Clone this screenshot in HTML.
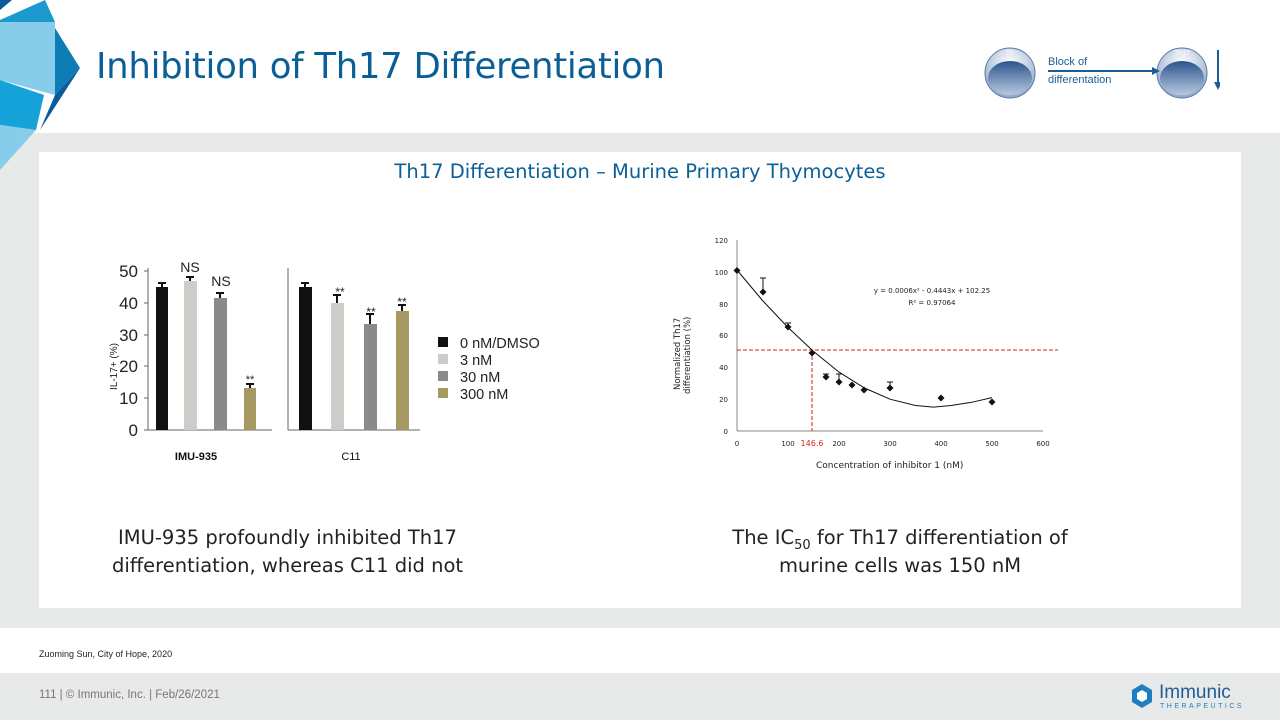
<!DOCTYPE html>
<html><head><meta charset="utf-8"><style>
body{margin:0;width:1280px;height:720px;position:relative;background:#fff;font-family:"Liberation Sans",sans-serif;overflow:hidden}
.abs{position:absolute}
sub{line-height:0}
</style></head><body>
<div class="abs" style="left:0;top:133px;width:1280px;height:495px;background:#e8e9e9"></div>
<div class="abs" style="left:39px;top:152px;width:1202px;height:456px;background:#fff"></div>
<div class="abs" style="left:0;top:673px;width:1280px;height:47px;background:#e8e9e9"></div>
<svg class="abs" style="left:0;top:0" width="90" height="180">
<polygon points="0,0 12,0 0,10" fill="#0a5a9c"/>
<polygon points="0,20 45,0 55,22 0,22" fill="#1c9ad0"/>
<polygon points="0,22 55,22 55,95 0,80" fill="#86cdea"/>
<polygon points="55,28 80,68 55,95" fill="#0e7db5"/>
<polygon points="80,68 55,95 40,130" fill="#0a5a9c"/>
<polygon points="0,80 44,95 36,130 0,125" fill="#14a2d8"/>
<polygon points="0,125 36,130 0,170" fill="#86cdea"/>
</svg>
<div class="abs" style="left:96px;top:46px;font-size:35.5px;color:#0b5f97;font-family:'DejaVu Sans',sans-serif;letter-spacing:-0.3px">Inhibition of Th17 Differentiation</div>
<svg class="abs" style="left:980px;top:40px" width="240" height="65">
<defs><radialGradient id="g" cx="50%" cy="30%" r="70%"><stop offset="0" stop-color="#fff"/><stop offset="1" stop-color="#8ea6c8"/></radialGradient>
<linearGradient id="b" x1="0" y1="0" x2="0" y2="1"><stop offset="0" stop-color="#2b548c"/><stop offset="1" stop-color="#b8c8e0"/></linearGradient></defs>
<circle cx="30" cy="33" r="25" fill="url(#g)" stroke="#5a7aa8"/><ellipse cx="30" cy="38" rx="22" ry="17" fill="url(#b)"/>
<text x="30" y="15" font-size="7" fill="#fff" text-anchor="middle">Th</text>
<circle cx="202" cy="33" r="25" fill="url(#g)" stroke="#5a7aa8"/><ellipse cx="202" cy="38" rx="22" ry="17" fill="url(#b)"/>
<text x="202" y="15" font-size="7" fill="#fff" text-anchor="middle">Th17</text>
<text x="68" y="25" font-size="11" fill="#1b5e96">Block of</text>
<text x="68" y="43" font-size="11" fill="#1b5e96">differentation</text>
<line x1="68" y1="31" x2="172" y2="31" stroke="#1b5e96" stroke-width="2"/><polygon points="172,27 180,31 172,35" fill="#1b5e96"/>
<line x1="238" y1="10" x2="238" y2="44" stroke="#1b5e96" stroke-width="2"/><polygon points="234,42 238,50 242,42" fill="#1b5e96"/>
</svg>
<div class="abs" style="left:39px;width:1202px;top:160px;text-align:center;font-size:19.5px;color:#0b5f97;font-family:'DejaVu Sans',sans-serif">Th17 Differentiation – Murine Primary Thymocytes</div>
<!-- bar chart -->
<svg class="abs" style="left:100px;top:250px" width="460" height="220" font-family="Liberation Sans,sans-serif">
<g font-size="17" fill="#222" text-anchor="end">
<text x="38" y="27">50</text><text x="38" y="59">40</text><text x="38" y="91">30</text><text x="38" y="122">20</text><text x="38" y="154">10</text><text x="38" y="186">0</text></g>
<text transform="translate(17,140) rotate(-90)" font-size="10" fill="#222">IL-17+ (%)</text>
<line x1="48" y1="18" x2="48" y2="180" stroke="#666"/><line x1="48" y1="180" x2="172" y2="180" stroke="#666"/>
<g stroke="#666"><line x1="44" y1="21" x2="48" y2="21"/><line x1="44" y1="53" x2="48" y2="53"/><line x1="44" y1="85" x2="48" y2="85"/><line x1="44" y1="116" x2="48" y2="116"/><line x1="44" y1="148" x2="48" y2="148"/><line x1="44" y1="180" x2="48" y2="180"/></g>
<rect x="56" y="37" width="12" height="143" fill="#111"/><rect x="84" y="31" width="13" height="149" fill="#ccccc8"/><rect x="114" y="48" width="13" height="132" fill="#8a8a88"/><rect x="144" y="138" width="12" height="42" fill="#a69a62"/>
<g stroke="#111" stroke-width="2"><line x1="62" y1="37" x2="62" y2="33"/><line x1="58" y1="33" x2="66" y2="33"/><line x1="90" y1="31" x2="90" y2="27"/><line x1="86" y1="27" x2="94" y2="27"/><line x1="120" y1="48" x2="120" y2="43"/><line x1="116" y1="43" x2="124" y2="43"/><line x1="150" y1="138" x2="150" y2="134"/><line x1="146" y1="134" x2="154" y2="134"/></g>
<text x="90" y="22" font-size="14" text-anchor="middle" fill="#222">NS</text><text x="121" y="36" font-size="14" text-anchor="middle" fill="#222">NS</text>
<text x="150" y="133" font-size="11" text-anchor="middle" fill="#222">**</text>
<line x1="188" y1="18" x2="188" y2="180" stroke="#666"/><line x1="188" y1="180" x2="320" y2="180" stroke="#666"/>
<rect x="199" y="37" width="13" height="143" fill="#111"/><rect x="231" y="53" width="13" height="127" fill="#ccccc8"/><rect x="264" y="74" width="13" height="106" fill="#8a8a88"/><rect x="296" y="61" width="13" height="119" fill="#a69a62"/>
<g stroke="#111" stroke-width="2"><line x1="205" y1="37" x2="205" y2="33"/><line x1="201" y1="33" x2="209" y2="33"/><line x1="237" y1="53" x2="237" y2="45"/><line x1="233" y1="45" x2="241" y2="45"/><line x1="270" y1="74" x2="270" y2="64"/><line x1="266" y1="64" x2="274" y2="64"/><line x1="302" y1="61" x2="302" y2="55"/><line x1="298" y1="55" x2="306" y2="55"/></g>
<g font-size="12" text-anchor="middle" fill="#222"><text x="240" y="46">**</text><text x="271" y="66">**</text><text x="302" y="56">**</text></g>
<rect x="338" y="87" width="10" height="10" fill="#111"/><rect x="338" y="104" width="10" height="10" fill="#ccccc8"/><rect x="338" y="121" width="10" height="10" fill="#8a8a88"/><rect x="338" y="138" width="10" height="10" fill="#a69a62"/>
<g font-size="14.5" fill="#222"><text x="360" y="98">0 nM/DMSO</text><text x="360" y="115">3 nM</text><text x="360" y="132">30 nM</text><text x="360" y="149">300 nM</text></g>
<text x="96" y="210" font-size="11" text-anchor="middle" fill="#111" font-weight="bold">IMU-935</text>
<text x="251" y="210" font-size="11" text-anchor="middle" fill="#111">C11</text>
</svg>
<!-- line chart -->
<svg class="abs" style="left:660px;top:230px" width="420" height="250" font-family="DejaVu Sans,sans-serif">
<g font-size="7" fill="#222" text-anchor="end"><text x="68" y="13">120</text><text x="68" y="45">100</text><text x="68" y="77">80</text><text x="68" y="108">60</text><text x="68" y="140">40</text><text x="68" y="172">20</text><text x="68" y="204">0</text></g>
<line x1="77" y1="10" x2="77" y2="201" stroke="#888"/><line x1="77" y1="201" x2="383" y2="201" stroke="#888"/>
<g font-size="7" fill="#222" text-anchor="middle"><text x="77" y="216">0</text><text x="128" y="216">100</text><text x="179" y="216">200</text><text x="230" y="216">300</text><text x="281" y="216">400</text><text x="332" y="216">500</text><text x="383" y="216">600</text></g>
<text x="152" y="216" font-size="8" fill="#d22" text-anchor="middle">146.6</text>
<text transform="translate(20,160) rotate(-90)" font-size="8.5" fill="#222">Normalized  Th17</text>
<text transform="translate(30,164) rotate(-90)" font-size="8.5" fill="#222">differentiation  (%)</text>
<text x="156" y="238" font-size="9" fill="#222">Concentration  of inhibitor 1 (nM)</text>
<line x1="77" y1="120" x2="398" y2="120" stroke="#c22" stroke-dasharray="4,2"/>
<line x1="152" y1="120" x2="152" y2="201" stroke="#c22" stroke-dasharray="4,2"/>
<polyline points="77,40 102.5,70.5 128,97.5 153.5,121.4 179,142.1 204.5,158 230,169.2 255.5,175.5 273.4,177.1 291.2,175.5 311.6,172.3 332,167.6" fill="none" stroke="#111"/>
<g stroke="#111"><line x1="103" y1="62" x2="103" y2="48"/><line x1="100" y1="48" x2="106" y2="48"/><line x1="128" y1="97" x2="128" y2="93"/><line x1="125" y1="93" x2="131" y2="93"/><line x1="166" y1="147" x2="166" y2="144"/><line x1="163" y1="144" x2="169" y2="144"/><line x1="179" y1="152" x2="179" y2="144"/><line x1="176" y1="144" x2="182" y2="144"/><line x1="230" y1="158" x2="230" y2="152"/><line x1="227" y1="152" x2="233" y2="152"/></g>
<g fill="#111"><path d="M77,37l3.5,3.5l-3.5,3.5l-3.5,-3.5z"/><path d="M103,58.5l3.5,3.5l-3.5,3.5l-3.5,-3.5z"/><path d="M128,93.5l3.5,3.5l-3.5,3.5l-3.5,-3.5z"/><path d="M152,119.5l3.5,3.5l-3.5,3.5l-3.5,-3.5z"/><path d="M166,143.5l3.5,3.5l-3.5,3.5l-3.5,-3.5z"/><path d="M179,148.5l3.5,3.5l-3.5,3.5l-3.5,-3.5z"/><path d="M192,151.5l3.5,3.5l-3.5,3.5l-3.5,-3.5z"/><path d="M204,156.5l3.5,3.5l-3.5,3.5l-3.5,-3.5z"/><path d="M230,154.5l3.5,3.5l-3.5,3.5l-3.5,-3.5z"/><path d="M281,164.5l3.5,3.5l-3.5,3.5l-3.5,-3.5z"/><path d="M332,168.5l3.5,3.5l-3.5,3.5l-3.5,-3.5z"/></g>
<text x="272" y="63" font-size="7" fill="#222" text-anchor="middle">y = 0.0006x² - 0.4443x + 102.25</text>
<text x="272" y="75" font-size="7" fill="#222" text-anchor="middle">R² = 0.97064</text>
</svg>
<div class="abs" style="left:90px;width:395px;top:524px;text-align:center;font-size:19.5px;line-height:28px;color:#222;font-family:'DejaVu Sans',sans-serif">IMU-935 profoundly inhibited Th17 differentiation, whereas C11 did not</div>
<div class="abs" style="left:700px;width:400px;top:524px;text-align:center;font-size:19.5px;line-height:28px;color:#222;font-family:'DejaVu Sans',sans-serif">The IC<sub style="font-size:13px">50</sub> for Th17 differentiation of murine cells was 150 nM</div>
<div class="abs" style="left:39px;top:649px;font-size:9px;color:#222">Zuoming Sun, City of Hope, 2020</div>
<div class="abs" style="left:39px;top:689px;font-size:11.5px;color:#777">111 |  © Immunic, Inc.  |  Feb/26/2021</div>
<svg class="abs" style="left:1130px;top:682px" width="24" height="28"><polygon points="12,2 22,8 22,20 12,26 2,20 2,8" fill="#1b7fc0"/><polygon points="12,8 17,11 17,17 12,20 7,17 7,11" fill="#fff"/></svg>
<div class="abs" style="left:1159px;top:682px;font-size:19px;color:#1b5e96">Immunic</div>
<div class="abs" style="left:1160px;top:703px;font-size:7px;letter-spacing:2.5px;color:#1b7fc0">THERAPEUTICS</div>
</body></html>
